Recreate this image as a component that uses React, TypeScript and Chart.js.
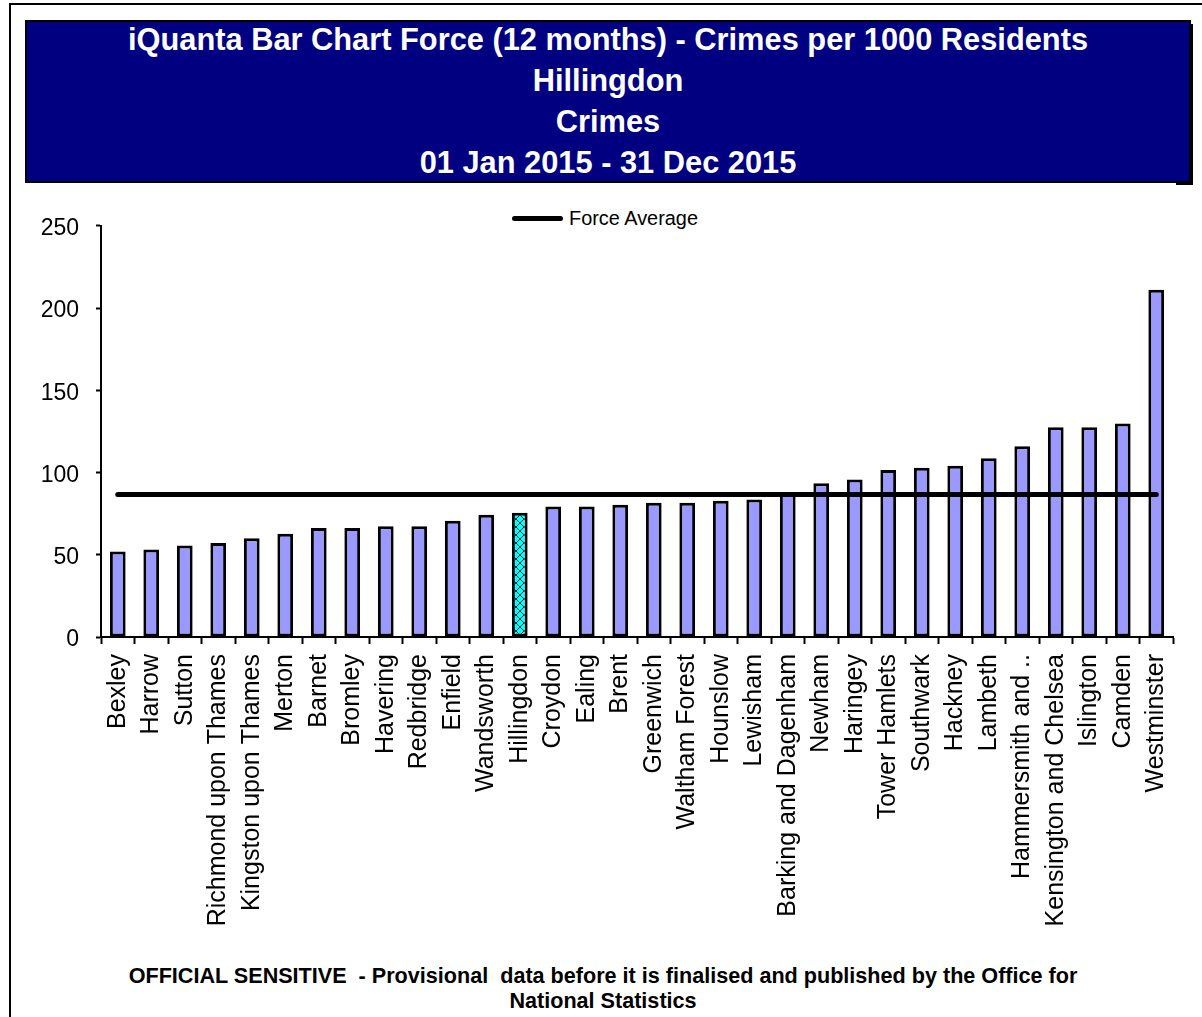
import React, { useEffect, useRef } from 'react';
import { Chart, registerables } from 'chart.js';

Chart.register(...registerables);

const FONT = '"Liberation Sans", Arial, Helvetica, sans-serif';

const boroughs = [
  'Bexley', 'Harrow', 'Sutton', 'Richmond upon Thames', 'Kingston upon Thames', 'Merton',
  'Barnet', 'Bromley', 'Havering', 'Redbridge', 'Enfield', 'Wandsworth', 'Hillingdon',
  'Croydon', 'Ealing', 'Brent', 'Greenwich', 'Waltham Forest', 'Hounslow', 'Lewisham',
  'Barking and Dagenham', 'Newham', 'Haringey', 'Tower Hamlets', 'Southwark', 'Hackney',
  'Lambeth', 'Hammersmith and ..', 'Kensington and Chelsea', 'Islington', 'Camden', 'Westminster',
];

const crimeRates = [
  52.0, 53.2, 55.7, 57.1, 60.1, 62.8,
  66.2, 66.2, 67.4, 67.4, 70.7, 74.4, 75.5,
  79.4, 79.4, 80.4, 81.6, 81.6, 82.8, 83.6,
  87.1, 93.5, 95.8, 101.6, 102.9, 104.1,
  108.7, 116.0, 127.5, 127.5, 129.8, 211.1,
];

const forceAverage = 86.6;
const highlightedBorough = 'Hillingdon';

const yMin = 0;
const yMax = 250;
const yStep = 50;

const titleLines = [
  'iQuanta Bar Chart Force (12 months) - Crimes per 1000 Residents',
  'Hillingdon',
  'Crimes',
  '01 Jan 2015 - 31 Dec 2015',
];

const footerLines = [
  'OFFICIAL SENSITIVE  - Provisional  data before it is finalised and published by the Office for',
  'National Statistics',
];

function makePattern(): CanvasPattern | string {
  const pc = document.createElement('canvas');
  pc.width = 8;
  pc.height = 8;
  const c = pc.getContext('2d');
  if (!c) return '#00FFFF';
  c.fillStyle = '#00FFFF';
  c.fillRect(0, 0, 8, 8);
  c.strokeStyle = '#003333';
  c.lineWidth = 1;
  c.beginPath();
  c.moveTo(0, 0);
  c.lineTo(8, 8);
  c.moveTo(8, 0);
  c.lineTo(0, 8);
  c.stroke();
  const p = c.createPattern(pc, 'repeat');
  return p || '#00FFFF';
}

export default function App() {
  const ref = useRef<HTMLCanvasElement>(null);

  useEffect(() => {
    const canvas = ref.current;
    if (!canvas) return;
    const pattern = makePattern();
    const colors = boroughs.map((b) => (b === highlightedBorough ? pattern : '#9999FF'));

    const chart = new Chart(canvas, {
      type: 'bar',
      data: {
        labels: boroughs,
        datasets: [
          {
            type: 'line',
            label: 'Force Average',
            data: boroughs.map(() => forceAverage),
            borderColor: '#000000',
            borderWidth: 5,
            pointRadius: 0,
            borderCapStyle: 'round',
            fill: false,
            order: 0,
          } as any,
          {
            type: 'bar',
            label: 'Crimes per 1000 Residents',
            data: crimeRates,
            backgroundColor: colors as any,
            borderColor: '#000000',
            borderWidth: 3,
            borderSkipped: false,
            barPercentage: 0.47,
            categoryPercentage: 1,
            order: 1,
          } as any,
        ],
      },
      options: {
        responsive: false,
        animation: false,
        devicePixelRatio: 1,
        layout: { padding: { top: 30, right: 29, left: 0, bottom: 0 } },
        plugins: {
          legend: { display: false },
          tooltip: { enabled: false },
          title: { display: false },
        },
        scales: {
          x: {
            offset: true,
            grid: {
              offset: true,
              drawOnChartArea: false,
              drawTicks: true,
              tickLength: 7,
              tickWidth: 2,
              tickColor: '#000000',
            },
            border: { display: true, color: '#000000', width: 2 },
            ticks: {
              autoSkip: false,
              minRotation: 90,
              maxRotation: 90,
              padding: 10,
              color: '#000000',
              font: { size: 25, family: FONT },
            },
            afterFit: (s: any) => {
              s.height = 323;
            },
          },
          y: {
            min: yMin,
            max: yMax,
            ticks: {
              stepSize: yStep,
              padding: 17,
              labelOffset: 3,
              color: '#000000',
              font: { size: 23, family: FONT },
            },
            grid: {
              drawOnChartArea: false,
              drawTicks: true,
              tickLength: 5,
              tickWidth: 2,
              tickColor: '#000000',
            },
            border: { display: true, color: '#000000', width: 2 },
            afterFit: (s: any) => {
              s.width = 101;
            },
          },
        },
      } as any,
    });

    return () => chart.destroy();
  }, []);

  return (
    <div style={{ position: 'absolute', left: 0, top: 0, width: 1202, height: 1017, background: '#fff', overflow: 'hidden', fontFamily: FONT }}>
      {/* outer frame */}
      <div style={{ position: 'absolute', left: 9, top: 3, width: 1193, height: 2, background: '#000' }} />
      <div style={{ position: 'absolute', left: 9, top: 3, width: 2, height: 1014, background: '#000' }} />

      {/* title box */}
      <div style={{ position: 'absolute', left: 1190, top: 24, width: 3, height: 161, background: '#000' }} />
      <div style={{ position: 'absolute', left: 1176, top: 182, width: 17, height: 3, background: '#000' }} />
      <div
        style={{
          position: 'absolute',
          left: 25,
          top: 20,
          width: 1166,
          height: 163,
          boxSizing: 'border-box',
          background: '#000080',
          border: '2px solid #000',
          color: '#ffffff',
          textAlign: 'center',
          fontWeight: 'bold',
          fontSize: 30.8,
          lineHeight: '41px',
          overflow: 'hidden',
        }}
      >
        <div style={{ marginTop: -3 }}>
          {titleLines.map((t, i) => (
            <div key={i} style={{ whiteSpace: 'pre' }}>{t}</div>
          ))}
        </div>
      </div>

      {/* legend */}
      <div style={{ position: 'absolute', left: 512, top: 216, width: 51, height: 5, borderRadius: 3, background: '#000' }} />
      <div style={{ position: 'absolute', left: 569, top: 206, fontSize: 19.9, lineHeight: '24px', color: '#000', whiteSpace: 'pre' }}>
        Force Average
      </div>

      <canvas ref={ref} width={1202} height={765} style={{ position: 'absolute', left: 0, top: 195, width: 1202, height: 765 }} />

      {/* footer */}
      <div
        style={{
          position: 'absolute',
          left: 4,
          top: 963,
          width: 1198,
          textAlign: 'center',
          fontWeight: 'bold',
          fontSize: 21.6,
          lineHeight: '25px',
          color: '#000',
        }}
      >
        {footerLines.map((t, i) => (
          <div key={i} style={{ whiteSpace: 'pre' }}>{t}</div>
        ))}
      </div>
    </div>
  );
}
